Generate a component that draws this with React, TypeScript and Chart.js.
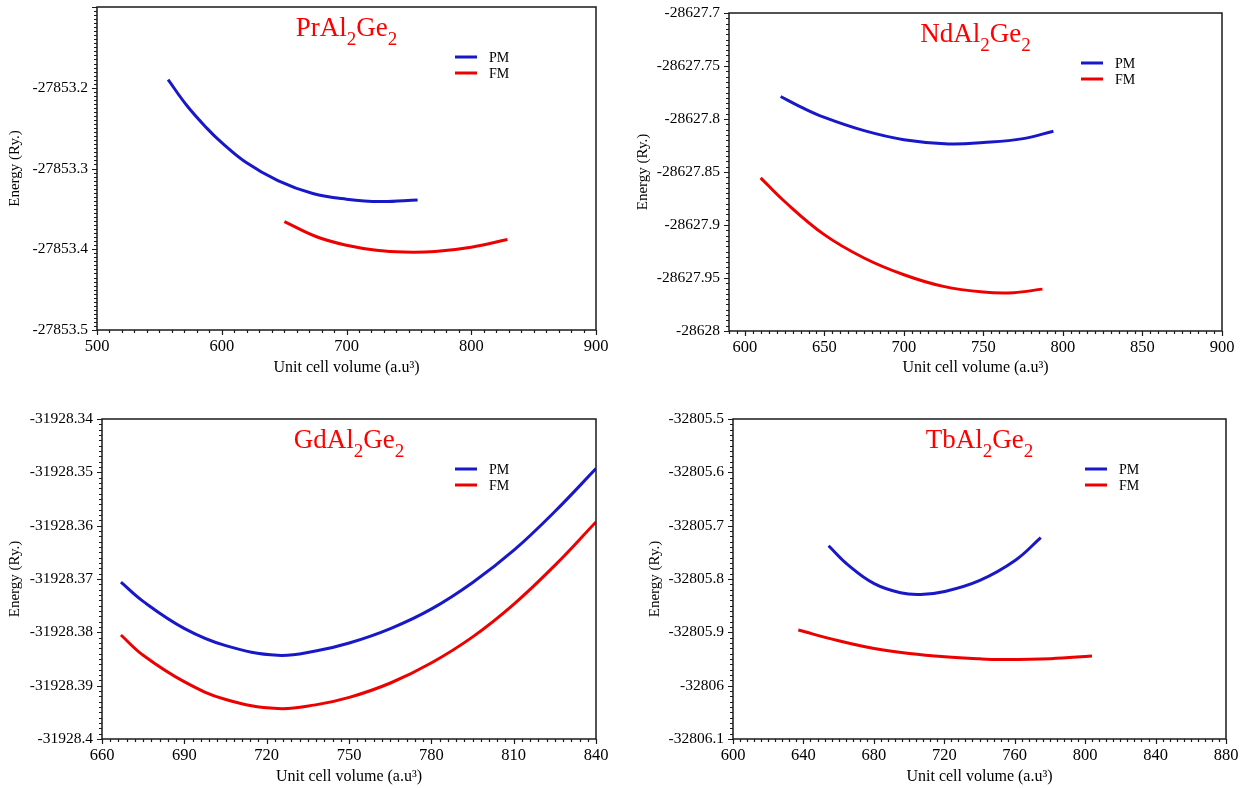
import React, { useEffect, useRef } from 'react';
import { Chart, registerables } from 'chart.js';

Chart.register(...registerables);

const FONT = "'Liberation Serif', 'Times New Roman', Times, serif";
const BLUE = '#1818c8';
const RED = '#ee0000';

// ---------- PrAl2Ge2 ----------
const prPmVolume = [557, 572, 588, 600, 619, 645, 673, 700, 727, 757];
const prPmEnergy = [-27853.19, -27853.222, -27853.25, -27853.268, -27853.292, -27853.315, -27853.331, -27853.338, -27853.341, -27853.339];
const prFmVolume = [650.2, 676, 700, 724, 746, 771, 800, 829];
const prFmEnergy = [-27853.3657, -27853.3845, -27853.395, -27853.4012, -27853.4035, -27853.4028, -27853.3975, -27853.388];
const prXTicks = [500, 600, 700, 800, 900];
const prXLabels = ['500', '600', '700', '800', '900'];
const prYTicks = [-27853.5, -27853.4, -27853.3, -27853.2, -27853.1];
const prYLabels = ['-27853.5', '-27853.4', '-27853.3', '-27853.2', ''];

// ---------- NdAl2Ge2 ----------
const ndPmVolume = [622.5, 635, 650, 675, 700, 728, 750, 775, 794];
const ndPmEnergy = [-28627.7788, -28627.7885, -28627.7985, -28627.811, -28627.8195, -28627.8235, -28627.8222, -28627.8185, -28627.8115];
const ndFmVolume = [609.9, 624.8, 649.9, 674.9, 700.0, 724.8, 749.9, 768.9, 787.1];
const ndFmEnergy = [-28627.8555, -28627.8776, -28627.9091, -28627.9311, -28627.9469, -28627.9579, -28627.9632, -28627.9638, -28627.9605];
const ndXTicks = [600, 650, 700, 750, 800, 850, 900];
const ndXLabels = ['600', '650', '700', '750', '800', '850', '900'];
const ndYTicks = [-28628, -28627.95, -28627.9, -28627.85, -28627.8, -28627.75, -28627.7];
const ndYLabels = ['-28628', '-28627.95', '-28627.9', '-28627.85', '-28627.8', '-28627.75', '-28627.7'];

// ---------- GdAl2Ge2 ----------
const gdPmVolume = [666.9, 675.0, 690.1, 705.1, 724.0, 737.8, 750.1, 765.1, 780.1, 795.2, 810.1, 825.1, 840.0];
const gdPmEnergy = [-31928.3706, -31928.3742, -31928.3793, -31928.3825, -31928.3843, -31928.3835, -31928.382, -31928.3793, -31928.3756, -31928.3706, -31928.3646, -31928.3573, -31928.3493];
const gdFmVolume = [666.9, 675.0, 690.1, 705.1, 724.0, 737.8, 750.1, 765.1, 780.1, 795.2, 810.1, 825.1, 840.0];
const gdFmEnergy = [-31928.3805, -31928.3843, -31928.3893, -31928.3926, -31928.3943, -31928.3936, -31928.3922, -31928.3895, -31928.3857, -31928.3808, -31928.3747, -31928.3674, -31928.3593];
const gdXTicks = [660, 690, 720, 750, 780, 810, 840];
const gdXLabels = ['660', '690', '720', '750', '780', '810', '840'];
const gdYTicks = [-31928.4, -31928.39, -31928.38, -31928.37, -31928.36, -31928.35, -31928.34];
const gdYLabels = ['-31928.4', '-31928.39', '-31928.38', '-31928.37', '-31928.36', '-31928.35', '-31928.34'];

// ---------- TbAl2Ge2 ----------
const tbPmVolume = [654.3, 665.3, 680.2, 695.1, 706.6, 720.3, 740.2, 760.4, 774.8];
const tbPmEnergy = [-32805.7376, -32805.7735, -32805.8088, -32805.8258, -32805.8289, -32805.8233, -32805.8025, -32805.7647, -32805.7224];
const tbFmVolume = [637.1, 660.0, 680.2, 700.1, 720.3, 740.2, 752.4, 780.3, 803.9];
const tbFmEnergy = [-32805.8957, -32805.9159, -32805.9304, -32805.9398, -32805.946, -32805.9497, -32805.9508, -32805.9493, -32805.9442];
const tbXTicks = [600, 640, 680, 720, 760, 800, 840, 880];
const tbXLabels = ['600', '640', '680', '720', '760', '800', '840', '880'];
const tbYTicks = [-32806.1, -32806, -32805.9, -32805.8, -32805.7, -32805.6, -32805.5];
const tbYLabels = ['-32806.1', '-32806', '-32805.9', '-32805.8', '-32805.7', '-32805.6', '-32805.5'];

const seriesNames = ['PM', 'FM'];
const xTitle = 'Unit cell volume (a.u\u00B3)';
const yTitle = 'Energy (Ry.)';

type PanelCfg = {
  formula: string;
  box: { left: number; top: number; w: number; h: number };
  yAxisW: number; padTop: number; padRight: number; xAxisH: number;
  xTitlePad: number; yTitlePad: number;
  xTicks: number[]; xLabels: string[]; yTicks: number[]; yLabels: string[];
  xMinor: number; yMinor: number; xMin: number;
  pm: [number[], number[]]; fm: [number[], number[]];
};

const panels: PanelCfg[] = [
  { formula: 'PrAl2Ge2', box: { left: 0, top: 0, w: 620, h: 390 }, yAxisW: 97, padTop: 7, padRight: 24, xAxisH: 60, xTitlePad: 12.4, yTitlePad: 6,
    xTicks: prXTicks, xLabels: prXLabels, yTicks: prYTicks, yLabels: prYLabels, xMinor: 10, yMinor: 20, xMin: 500,
    pm: [prPmVolume, prPmEnergy], fm: [prFmVolume, prFmEnergy] },
  { formula: 'NdAl2Ge2', box: { left: 620, top: 0, w: 631, h: 390 }, yAxisW: 109, padTop: 13, padRight: 29, xAxisH: 59, xTitlePad: 12.4, yTitlePad: 14,
    xTicks: ndXTicks, xLabels: ndXLabels, yTicks: ndYTicks, yLabels: ndYLabels, xMinor: 10, yMinor: 10, xMin: 590,
    pm: [ndPmVolume, ndPmEnergy], fm: [ndFmVolume, ndFmEnergy] },
  { formula: 'GdAl2Ge2', box: { left: 0, top: 395, w: 620, h: 393 }, yAxisW: 102, padTop: 24, padRight: 24, xAxisH: 49, xTitlePad: 1.4, yTitlePad: 6,
    xTicks: gdXTicks, xLabels: gdXLabels, yTicks: gdYTicks, yLabels: gdYLabels, xMinor: 10, yMinor: 10, xMin: 660,
    pm: [gdPmVolume, gdPmEnergy], fm: [gdFmVolume, gdFmEnergy] },
  { formula: 'TbAl2Ge2', box: { left: 620, top: 395, w: 631, h: 393 }, yAxisW: 113, padTop: 24, padRight: 25, xAxisH: 49, xTitlePad: 1.4, yTitlePad: 26,
    xTicks: tbXTicks, xLabels: tbXLabels, yTicks: tbYTicks, yLabels: tbYLabels, xMinor: 10, yMinor: 10, xMin: 600,
    pm: [tbPmVolume, tbPmEnergy], fm: [tbFmVolume, tbFmEnergy] },
];

function drawFormula(ctx: CanvasRenderingContext2D, text: string, cx: number, baseline: number) {
  const big = `27px ${FONT}`;
  const small = `19px ${FONT}`;
  const segs = text.match(/\d+|\D+/g) || [];
  let total = 0;
  const widths = segs.map((s) => {
    ctx.font = /\d/.test(s) ? small : big;
    const w = ctx.measureText(s).width;
    total += w;
    return w;
  });
  let x = cx - total / 2;
  ctx.fillStyle = '#ff0000';
  ctx.textAlign = 'left';
  ctx.textBaseline = 'alphabetic';
  segs.forEach((s, i) => {
    const sub = /\d/.test(s);
    ctx.font = sub ? small : big;
    ctx.fillText(s, x, baseline + (sub ? 9 : 0));
    x += widths[i];
  });
}

function Panel({ cfg }: { cfg: PanelCfg }) {
  const ref = useRef<HTMLCanvasElement | null>(null);
  useEffect(() => {
    if (!ref.current) return;
    const xMax = cfg.xTicks[cfg.xTicks.length - 1];
    const yMin = cfg.yTicks[0];
    const yMax = cfg.yTicks[cfg.yTicks.length - 1];
    const decor = {
      id: 'decor',
      afterDraw(chart: any) {
        const { ctx, chartArea } = chart;
        const { left, right, top, bottom } = chartArea;
        const xs = chart.scales.x;
        const ys = chart.scales.y;
        ctx.save();
        ctx.strokeStyle = '#1a1a1a';
        ctx.lineWidth = 1.5;
        ctx.strokeRect(left, top, right - left, bottom - top);
        ctx.lineWidth = 1.2;
        const xStep = (cfg.xTicks[1] - cfg.xTicks[0]) / cfg.xMinor;
        const x0 = cfg.xTicks[0];
        const kx0 = Math.ceil((cfg.xMin - x0) / xStep - 1e-6);
        const kx1 = Math.floor((xMax - x0) / xStep + 1e-6);
        ctx.beginPath();
        for (let k = kx0; k <= kx1; k++) {
          const v = x0 + k * xStep;
          const px = Math.round(xs.getPixelForValue(v)) + 0.5;
          const len = k % cfg.xMinor === 0 ? 5 : 3;
          ctx.moveTo(px, bottom);
          ctx.lineTo(px, bottom + len);
        }
        const yStep = (cfg.yTicks[1] - cfg.yTicks[0]) / cfg.yMinor;
        const ky1 = Math.round((yMax - yMin) / yStep);
        for (let k = 0; k <= ky1; k++) {
          const v = yMin + k * yStep;
          const py = Math.round(ys.getPixelForValue(v)) + 0.5;
          const len = k % cfg.yMinor === 0 ? 5 : 3;
          ctx.moveTo(left, py);
          ctx.lineTo(left - len, py);
        }
        ctx.stroke();
        drawFormula(ctx, cfg.formula, (left + right) / 2, top + 29);
        const colors = [BLUE, RED];
        seriesNames.forEach((name, i) => {
          const ly = top + 50 + i * 16;
          ctx.strokeStyle = colors[i];
          ctx.lineWidth = 3;
          ctx.beginPath();
          ctx.moveTo(right - 141, ly);
          ctx.lineTo(right - 119, ly);
          ctx.stroke();
          ctx.fillStyle = '#000';
          ctx.font = `14px ${FONT}`;
          ctx.textAlign = 'left';
          ctx.textBaseline = 'middle';
          ctx.fillText(name, right - 107, ly + 1);
        });
        ctx.restore();
      },
    };
    const mk = (arr: [number[], number[]]) => arr[0].map((v, i) => ({ x: v, y: arr[1][i] }));
    const chart = new Chart(ref.current, {
      type: 'line',
      data: {
        datasets: [
          { label: seriesNames[0], data: mk(cfg.pm), borderColor: BLUE, backgroundColor: BLUE, borderWidth: 3, pointRadius: 0, tension: 0.4, fill: false },
          { label: seriesNames[1], data: mk(cfg.fm), borderColor: RED, backgroundColor: RED, borderWidth: 3, pointRadius: 0, tension: 0.4, fill: false },
        ],
      } as any,
      options: {
        responsive: false,
        animation: false,
        events: [],
        layout: { padding: { left: 0, top: cfg.padTop, right: cfg.padRight, bottom: 0 } },
        plugins: { legend: { display: false }, tooltip: { enabled: false }, title: { display: false } },
        scales: {
          x: {
            type: 'linear', min: cfg.xMin, max: xMax,
            grid: { display: false, drawTicks: false },
            border: { display: false },
            afterBuildTicks: (s: any) => { s.ticks = cfg.xTicks.map((v) => ({ value: v })); },
            afterFit: (s: any) => { s.height = cfg.xAxisH; s.paddingLeft = 0; s.paddingRight = 0; },
            ticks: { autoSkip: false, maxRotation: 0, padding: 7, color: '#000', font: { family: FONT, size: 16.5 },
              callback: (_v: any, i: number) => cfg.xLabels[i] },
            title: { display: true, text: xTitle, color: '#000', font: { family: FONT, size: 16 }, padding: { top: 0, bottom: cfg.xTitlePad } },
          },
          y: {
            type: 'linear', min: yMin, max: yMax,
            grid: { display: false, drawTicks: false },
            border: { display: false },
            afterBuildTicks: (s: any) => { s.ticks = cfg.yTicks.map((v) => ({ value: v })); },
            afterFit: (s: any) => { s.width = cfg.yAxisW; s.paddingTop = 0; s.paddingBottom = 0; },
            ticks: { autoSkip: false, padding: 9, color: '#000', font: { family: FONT, size: 15.5 },
              callback: (_v: any, i: number) => cfg.yLabels[i] },
            title: { display: true, text: yTitle, color: '#000', font: { family: FONT, size: 15 }, padding: { top: cfg.yTitlePad, bottom: 0 } },
          },
        },
      } as any,
      plugins: [decor],
    });
    return () => chart.destroy();
  }, [cfg]);
  return (
    <canvas
      ref={ref}
      width={cfg.box.w}
      height={cfg.box.h}
      style={{ position: 'absolute', left: cfg.box.left, top: cfg.box.top, width: cfg.box.w, height: cfg.box.h }}
    />
  );
}

export default function App() {
  return (
    <div style={{ position: 'absolute', left: 0, top: 0, width: 1251, height: 788, background: '#fff', overflow: 'hidden' }}>
      {panels.map((p) => (
        <Panel key={p.formula} cfg={p} />
      ))}
    </div>
  );
}
